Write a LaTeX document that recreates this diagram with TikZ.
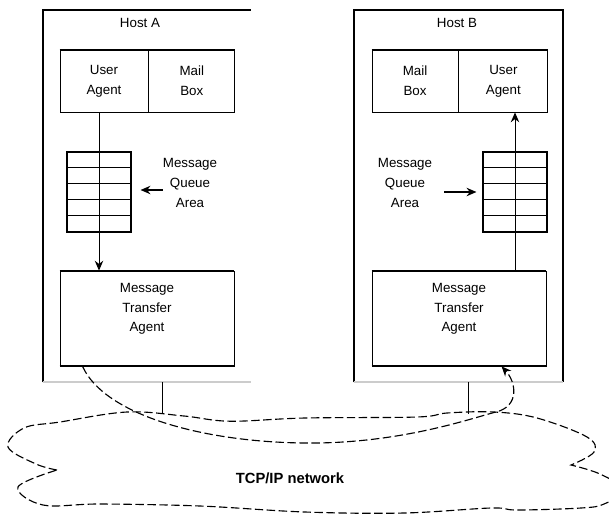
\documentclass[tikz,border=0pt]{standalone}
\usepackage{fontspec}
\setmainfont{Liberation Sans}
\usetikzlibrary{arrows.meta,positioning}

\begin{document}
\begin{tikzpicture}[
    font=\fontsize{9.5}{14}\selectfont,
    frame/.style={
        inner sep=0pt,
        minimum width=5.2cm,
        minimum height=9.3cm
    },
    box/.style={
        draw,
        line width=0.6pt,
        align=center,
        inner sep=0pt,
        minimum height=1.55cm
    },
    mta/.style={
        box,
        minimum width=4.35cm,
        minimum height=2.375cm,
        text depth=0.55cm
    },
    queue/.style={
        draw,
        line width=0.8pt,
        minimum width=1.6cm,
        minimum height=2.0cm,
        inner sep=0pt
    },
    note/.style={
        align=center,
        inner sep=0pt
    },
    rule/.style={
        line width=1.4pt
    },
    shade/.style={
        line width=1.4pt,
        gray!40
    },
    arrow/.style={
        -{Stealth[length=7pt,width=6pt]},
        line width=0.7pt
    },
    wire/.style={
        dash pattern=on 6pt off 2.5pt,
        line width=0.8pt
    }
]

\useasboundingbox (0,0) rectangle (15.225,12.95);
\clip (0,0) rectangle (15.225,12.95);

% ==================================================
% Hosts
% ==================================================

\node[frame] (hostA) at (3.675,8.05) {};
\node[frame, minimum width=5.225cm] (hostB) at (11.4625,8.05) {};

\node[note] (hostAlabel) at (3.5,12.375) {Host A};
\node[note] (hostBlabel) at (11.425,12.375) {Host B};

\draw[rule] (hostA.south west) -- (hostA.north west) -- (hostA.north east);
\draw[shade] (hostA.south west) -- (hostA.south east);

\draw[rule] (hostB.south west) -- (hostB.north west)
    -- (hostB.north east) -- (hostB.south east);
\draw[shade] (hostB.south west) -- (hostB.south east);


% ==================================================
% User agents and mail boxes
% ==================================================

\node[box, minimum width=2.2cm] (uaA) at (2.6,10.925) {User\\Agent};
\node[box, minimum width=2.15cm, right=0pt of uaA] (mbA) {Mail\\Box};

\node[box, minimum width=2.15cm] (mbB) at (10.375,10.925) {Mail\\Box};
\node[box, minimum width=2.225cm, right=0pt of mbB] (uaB) {User\\Agent};

\draw[rule] (uaA.north west) -- (mbA.north east);
\draw[rule] (mbB.north west) -- (uaB.north east);


% ==================================================
% Message queues
% ==================================================

\node[queue] (queueA) at (2.475,8.15) {};
\node[queue] (queueB) at (12.875,8.15) {};

\foreach \q in {queueA,queueB}
    \foreach \i in {1,...,4}
        \draw[line width=0.8pt] ([yshift=-\i*4mm]\q.north west)
            -- ([yshift=-\i*4mm]\q.north east);

\node[note] (qlabelA) at (4.75,8.375) {Message\\Queue\\Area};
\node[note] (qlabelB) at (10.125,8.375) {Message\\Queue\\Area};

\draw[arrow, line width=1pt, shorten >=2.25mm] ([yshift=-1.75mm]qlabelA.west)
    -- ([yshift=-1.75mm]qlabelA.west -| queueA.east);
\draw[arrow, line width=1pt, shorten <=3mm, shorten >=1.5mm] ([yshift=-2.25mm]qlabelB.east)
    -- ([yshift=-2.25mm]qlabelB.east -| queueB.west);


% ==================================================
% Message transfer agents
% ==================================================

\node[mta] (mtaA) at (3.675,4.9875) {Message\\Transfer\\Agent};
\node[mta] (mtaB) at (11.475,4.9875) {Message\\Transfer\\Agent};

\draw[rule] (mtaA.north west) -- (mtaA.north east);
\draw[rule] (mtaA.south west) -- (mtaA.south east);
\draw[rule] (mtaB.north west) -- (mtaB.north east);
\draw[rule] (mtaB.south west) -- (mtaB.south east);

% Local delivery
\draw[arrow] (queueA.center |- uaA.south) -- (queueA.center |- mtaA.north);
\draw[arrow] (queueB.center |- mtaB.north) -- (queueB.center |- uaB.south);


% ==================================================
% Network
% ==================================================

\coordinate (tapA) at (4.05,2.625);
\coordinate (tapB) at (11.7,2.6);

\draw[line width=0.6pt] (tapA |- hostA.south) -- (tapA);
\draw[line width=0.6pt] (tapB |- hostB.south) -- (tapB);

% Cloud outline
\draw[wire]
    plot[smooth, tension=0.6] coordinates {
        (1.425,1.2) (0.9,1.35) (0.2,1.775) (0.6,2.25) (1.5,2.4)
        (3.175,2.65) (4.6,2.55) (5.75,2.42) (7.625,2.5) (10.425,2.525)
        (11.175,2.625) (12.35,2.65) (13.425,2.5) (14.675,2.025)
        (14.85,1.65) (14.275,1.325)}
    -- plot[smooth, tension=0.6] coordinates {
        (14.275,1.325) (15.0,1.1) (15.6,0.7) (15.1,0.35) (14.525,0.25)
        (12.925,0.2) (12.275,0.25) (10.1,0.125) (7.625,0.15) (5.0,0.3)
        (2.5,0.35) (1.075,0.325) (0.45,0.775) (1.425,1.2)}
    -- cycle;

\node[font=\fontsize{10.5}{12}\selectfont\bfseries] (net) at (7.25,1.0)
    {TCP/IP network};

% Transfer between the two agents
\draw[wire, -{Stealth[length=7pt,width=6pt]}]
    ([xshift=5.75mm]mtaA.south west)
    .. controls (2.6,2.6) and (5.0,1.9) .. (7.625,1.875)
    .. controls (10.0,1.85) and (11.8,2.5) .. (12.4,2.65)
    .. controls (13.0,2.8) and (12.9,3.4) .. ([xshift=32.5mm]mtaB.south west);

\end{tikzpicture}
\end{document}
